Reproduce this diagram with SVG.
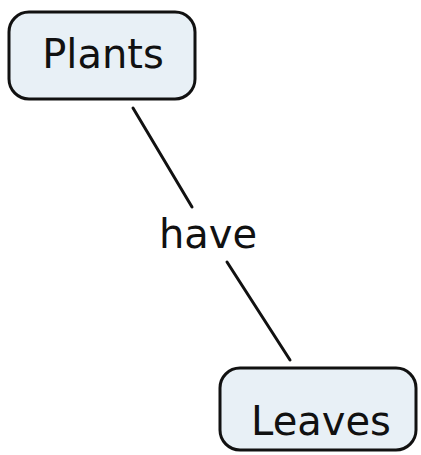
<svg xmlns="http://www.w3.org/2000/svg" width="421" height="455" viewBox="0 0 421 455">
<style>
.node rect{fill:#e8f0f6;stroke:#111;stroke-width:3}
.lbl{font-family:"DejaVu Sans",Verdana,sans-serif;font-size:40px;fill:#111;text-anchor:middle}
.conn line{stroke:#111;stroke-width:3;stroke-linecap:round}
</style>
<rect width="421" height="455" fill="#fff"/>
<g id="connectors" class="conn">
<line x1="133" y1="108" x2="192" y2="207"/>
<line x1="227" y1="262" x2="290" y2="360"/>
</g>
<g id="plants" class="node">
<rect x="9" y="12" width="186" height="87" rx="20"/>
<text class="lbl" x="103" y="68">Plants</text>
</g>
<g id="have">
<text class="lbl" x="208" y="248">have</text>
</g>
<g id="leaves" class="node">
<rect x="220" y="368" width="196" height="82" rx="20"/>
<text class="lbl" x="321" y="435">Leaves</text>
</g>
</svg>
